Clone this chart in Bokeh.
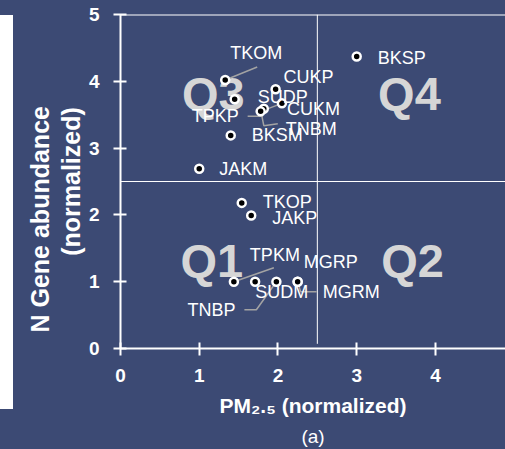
from bokeh.plotting import figure
from bokeh.models import (Range1d, FixedTicker, Span, Title, ColumnDataSource,
                          GlobalInlineStyleSheet)
from bokeh.core.properties import value
from bokeh.embed import file_html
from bokeh.resources import INLINE

# ---------------- data ----------------
names = ["TKOM", "SUDP", "CUKP", "TNBM", "TPKP", "CUKM", "BKSM", "JAKM",
         "BKSP", "TKOP", "JAKP", "TPKM", "SUDM", "TNBP", "MGRM", "MGRP"]
pm25 = [1.33, 1.45, 1.97, 1.82, 1.78, 2.05, 1.40, 1.00,
        3.00, 1.54, 1.66, 1.44, 1.71, 1.98, 2.25, 2.25]
ngene = [4.02, 3.73, 3.88, 3.59, 3.55, 3.67, 3.19, 2.69,
         4.37, 2.18, 1.99, 1.00, 1.00, 1.00, 1.00, 1.00]
x_ticks = [0, 1, 2, 3, 4]
y_ticks = [0, 1, 2, 3, 4, 5]
x_threshold = 2.5
y_threshold = 2.5
quadrants = ["Q3", "Q4", "Q1", "Q2"]

# ---------------- layout / style (pixel offsets, not data) ----------------
label_dx = [5, 23, 8, 22, -22, 5, 21, 20, 21, 21, 21, 16, 0, -41, 25, 6]
label_dy = [-27, -2, -12, 20, 5, 6, 0, 0, 1, -1, 2, -27, 10, 28, 10, -20]
label_align = ["left", "left", "left", "left", "right", "left", "left", "left",
               "left", "left", "left", "left", "left", "right", "left", "left"]
leaders = {
    "TKOM": [(0, 0), (32, -13)],
    "CUKM": [(0, 0), (-21, 8)],
    "TPKP": [(0, 0), (2, 5), (-13, 5)],
    "TNBM": [(0, 0), (-2, 7), (0, 17), (14, 15)],
    "TPKM": [(0, 0), (40, -14)],
    "TNBP": [(0, 0), (-20, 28), (-32, 28)],
    "MGRM": [(0, 0), (3, 10), (19, 10)],
}
q_pos_x = [1.18, 3.67, 1.16, 3.71]
q_pos_y = [3.82, 3.82, 1.32, 1.32]

BG = "#3c4a74"
FONT = "Liberation Sans"

W, H = 505, 449
ML, MR, MT, MB = 120, 0, 14, 101
X_END = 4.89
frame_w = W - ML - MR
frame_h = H - MT - MB
sx = frame_w / X_END
sy = frame_h / 5.0

p = figure(width=W, height=H, output_backend="svg", toolbar_location=None,
           x_range=Range1d(0, X_END), y_range=Range1d(0, 5),
           min_border_left=ML, min_border_right=MR, min_border_top=MT,
           min_border_bottom=MB, title=None)
p.border_fill_color = None
p.background_fill_color = BG
p.outline_line_color = None
p.xgrid.visible = False
p.ygrid.visible = False
p.stylesheets = [GlobalInlineStyleSheet(css=(
    "html, body { background: linear-gradient(#ffffff, #ffffff) 0px 15px / 13px 394px no-repeat, "
    + BG + "; }"))]

for ax, ticks in ((p.xaxis[0], x_ticks), (p.yaxis[0], y_ticks)):
    ax.ticker = FixedTicker(ticks=ticks)
    ax.axis_line_color = "white"
    ax.axis_line_width = 2
    ax.major_tick_line_color = "white"
    ax.major_tick_line_width = 2
    ax.major_tick_in = 6
    ax.major_tick_out = 7
    ax.minor_tick_line_color = None
    ax.major_label_text_color = "white"
    ax.major_label_text_font = FONT
    ax.major_label_text_font_style = "bold"
    ax.major_label_text_font_size = "19px"
p.xaxis[0].major_label_standoff = 13
p.yaxis[0].major_label_standoff = 14

# axis titles (as side titles so they sit outside the frame)
p.add_layout(Title(text="(normalized)", align="center", text_color="white",
                   text_font=FONT, text_font_style="bold", text_font_size="25px",
                   standoff=2), "left")
p.add_layout(Title(text="N Gene abundance", align="left", offset=16, text_color="white",
                   text_font=FONT, text_font_style="bold", text_font_size="25px",
                   standoff=0), "left")
p.add_layout(Title(text="PM\u2082.\u2085 (normalized)", align="center", text_color="white",
                   text_font=FONT, text_font_style="bold", text_font_size="21px",
                   standoff=14), "below")
p.add_layout(Title(text="(a)", align="center", text_color="white",
                   text_font=FONT, text_font_style="normal", text_font_size="19px",
                   standoff=0), "below")

# top border line
p.add_layout(Span(location=5, dimension="width", line_color="white", line_width=2))

# quadrant labels
p.text(x=q_pos_x, y=q_pos_y, text=quadrants, text_color="#d6d6d6",
       text_font=value(FONT), text_font_style="bold", text_font_size="47px",
       text_align="center", text_baseline="middle")

# quadrant dividers
p.add_layout(Span(location=y_threshold, dimension="width", line_color="white", line_width=1))
p.segment(x0=[x_threshold], y0=[0.07], x1=[x_threshold], y1=[5], line_color="white", line_width=1)

# leader lines
idx = {n: i for i, n in enumerate(names)}
xs, ys = [], []
for n, pts in leaders.items():
    i = idx[n]
    xs.append([pm25[i] + dx / sx for dx, dy in pts])
    ys.append([ngene[i] - dy / sy for dx, dy in pts])
p.multi_line(xs=xs, ys=ys, line_color="#a3a3a3", line_width=1.5)

# points
p.scatter(x=pm25, y=ngene, size=8, fill_color="black", line_color="white", line_width=2.5)

# point labels
src = ColumnDataSource(dict(x=pm25, y=ngene, text=names, dx=label_dx, dy=label_dy, align=label_align))
p.text(x="x", y="y", text="text", x_offset="dx", y_offset="dy", text_align="align",
       text_baseline="middle", text_color="white", text_font=value(FONT),
       text_font_size="18px", source=src)

open("out.html", "w").write(file_html(p, INLINE))
